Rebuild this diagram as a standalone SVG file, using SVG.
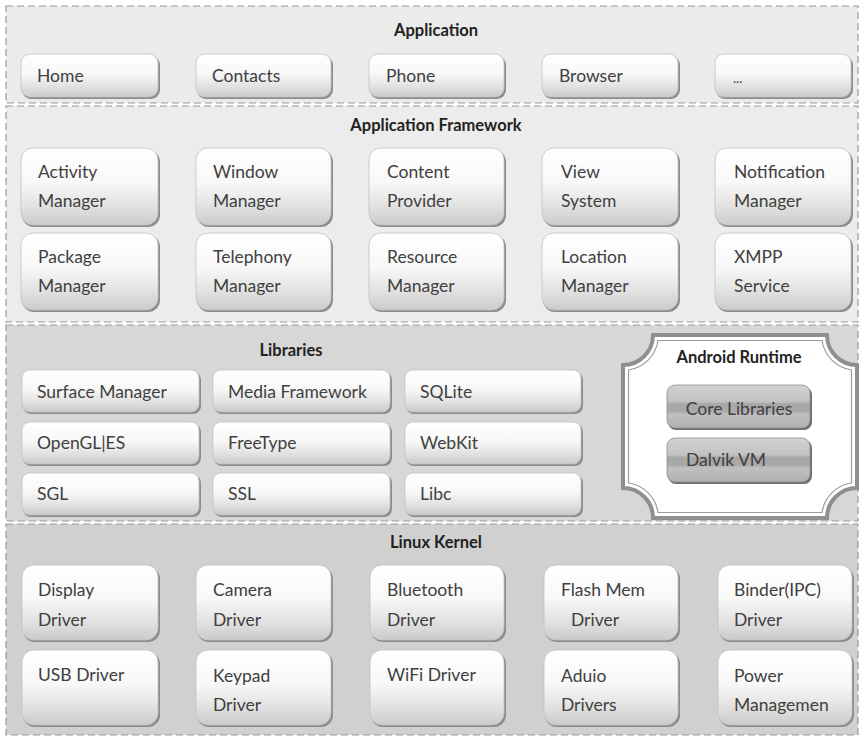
<svg xmlns="http://www.w3.org/2000/svg" width="862" height="738" viewBox="0 0 862 738">
<style>
.layer{stroke:#9a9a9a;stroke-width:1.2;stroke-dasharray:7 4}
.box{fill:url(#gw);stroke:#c2c2c2;stroke-width:0.8}
.sh{fill:#8c8c8c}
.dbox{fill:url(#gd);stroke:#8f8f8f;stroke-width:0.8}
.dsh{fill:#6f6f6f}
.t{font-family:Lato,"Liberation Sans",sans-serif;font-size:17.5px;fill:#404040}
.h{font-family:Lato,"Liberation Sans",sans-serif;font-size:16.5px;font-weight:bold;fill:#222222;text-anchor:middle}
</style>
<defs>
<linearGradient id="gw" x1="0" y1="0" x2="0" y2="1">
<stop offset="0" stop-color="#ffffff"/>
<stop offset="0.45" stop-color="#f8f8f8"/>
<stop offset="0.75" stop-color="#e2e2e2"/>
<stop offset="1" stop-color="#cbcbcb"/>
</linearGradient>
<linearGradient id="gd" x1="0" y1="0" x2="0" y2="1">
<stop offset="0" stop-color="#d2d2d2"/>
<stop offset="0.38" stop-color="#c2c2c2"/>
<stop offset="0.45" stop-color="#a6a6a6"/>
<stop offset="0.62" stop-color="#aaaaaa"/>
<stop offset="0.68" stop-color="#c0c0c0"/>
<stop offset="1" stop-color="#b0b0b0"/>
</linearGradient>
</defs>
<rect x="0" y="0" width="862" height="738" fill="#ffffff"/>

<g id="layers">
<rect class="layer" x="6" y="6" width="852" height="97" fill="#ebebeb"/>
<rect class="layer" x="6" y="106" width="852" height="216" fill="#ececec"/>
<rect class="layer" x="6" y="325" width="852" height="196" fill="#d7d7d7"/>
<rect class="layer" x="6" y="524" width="852" height="211" fill="#d0d0d0"/>
<text class="h" x="436" y="36">Application</text>
<text class="h" x="436" y="131">Application Framework</text>
<text class="h" x="291" y="356">Libraries</text>
<text class="h" x="436" y="548">Linux Kernel</text>
</g>

<!-- Application -->
<g id="home"><rect class="sh" x="22" y="56" width="138" height="43" rx="9"/><rect class="box" x="21" y="54" width="137" height="43" rx="9"/><text class="t" x="37" y="82">Home</text></g>
<g id="contacts"><rect class="sh" x="197" y="56" width="136" height="43" rx="9"/><rect class="box" x="196" y="54" width="135" height="43" rx="9"/><text class="t" x="212" y="82">Contacts</text></g>
<g id="phone"><rect class="sh" x="370" y="56" width="136" height="43" rx="9"/><rect class="box" x="369" y="54" width="135" height="43" rx="9"/><text class="t" x="386" y="82">Phone</text></g>
<g id="browser"><rect class="sh" x="543" y="56" width="137" height="43" rx="9"/><rect class="box" x="542" y="54" width="136" height="43" rx="9"/><text class="t" x="559" y="82">Browser</text></g>
<g id="more"><rect class="sh" x="716" y="56" width="137" height="43" rx="9"/><rect class="box" x="715" y="54" width="136" height="43" rx="9"/><text class="t" x="733" y="83" style="font-size:13px">...</text></g>

<!-- Application Framework -->
<g id="activity-manager"><rect class="sh" x="22" y="150" width="138" height="77" rx="12"/><rect class="box" x="21" y="148" width="137" height="77" rx="12"/><text class="t" x="38" y="178">Activity</text><text class="t" x="38" y="207">Manager</text></g>
<g id="window-manager"><rect class="sh" x="197" y="150" width="136" height="77" rx="12"/><rect class="box" x="196" y="148" width="135" height="77" rx="12"/><text class="t" x="213" y="178">Window</text><text class="t" x="213" y="207">Manager</text></g>
<g id="content-provider"><rect class="sh" x="370" y="150" width="136" height="77" rx="12"/><rect class="box" x="369" y="148" width="135" height="77" rx="12"/><text class="t" x="387" y="178">Content</text><text class="t" x="387" y="207">Provider</text></g>
<g id="view-system"><rect class="sh" x="543" y="150" width="137" height="77" rx="12"/><rect class="box" x="542" y="148" width="136" height="77" rx="12"/><text class="t" x="561" y="178">View</text><text class="t" x="561" y="207">System</text></g>
<g id="notification-manager"><rect class="sh" x="716" y="150" width="137" height="77" rx="12"/><rect class="box" x="715" y="148" width="136" height="77" rx="12"/><text class="t" x="734" y="178">Notification</text><text class="t" x="734" y="207">Manager</text></g>

<g id="package-manager"><rect class="sh" x="22" y="235" width="138" height="77" rx="12"/><rect class="box" x="21" y="233" width="137" height="77" rx="12"/><text class="t" x="38" y="263">Package</text><text class="t" x="38" y="292">Manager</text></g>
<g id="telephony-manager"><rect class="sh" x="197" y="235" width="136" height="77" rx="12"/><rect class="box" x="196" y="233" width="135" height="77" rx="12"/><text class="t" x="213" y="263">Telephony</text><text class="t" x="213" y="292">Manager</text></g>
<g id="resource-manager"><rect class="sh" x="370" y="235" width="136" height="77" rx="12"/><rect class="box" x="369" y="233" width="135" height="77" rx="12"/><text class="t" x="387" y="263">Resource</text><text class="t" x="387" y="292">Manager</text></g>
<g id="location-manager"><rect class="sh" x="543" y="235" width="137" height="77" rx="12"/><rect class="box" x="542" y="233" width="136" height="77" rx="12"/><text class="t" x="561" y="263">Location</text><text class="t" x="561" y="292">Manager</text></g>
<g id="xmpp-service"><rect class="sh" x="716" y="235" width="137" height="77" rx="12"/><rect class="box" x="715" y="233" width="136" height="77" rx="12"/><text class="t" x="734" y="263">XMPP</text><text class="t" x="734" y="292">Service</text></g>

<!-- Libraries -->
<g id="surface-manager"><rect class="sh" x="23" y="372" width="178" height="42" rx="8"/><rect class="box" x="22" y="370" width="177" height="42" rx="8"/><text class="t" x="37" y="398">Surface Manager</text></g>
<g id="media-framework"><rect class="sh" x="214" y="372" width="178" height="42" rx="8"/><rect class="box" x="213" y="370" width="177" height="42" rx="8"/><text class="t" x="228" y="398">Media Framework</text></g>
<g id="sqlite"><rect class="sh" x="406" y="372" width="177" height="42" rx="8"/><rect class="box" x="405" y="370" width="176" height="42" rx="8"/><text class="t" x="420" y="398">SQLite</text></g>
<g id="opengl"><rect class="sh" x="23" y="424" width="178" height="42" rx="8"/><rect class="box" x="22" y="422" width="177" height="42" rx="8"/><text class="t" x="37" y="449">OpenGL|ES</text></g>
<g id="freetype"><rect class="sh" x="214" y="424" width="178" height="42" rx="8"/><rect class="box" x="213" y="422" width="177" height="42" rx="8"/><text class="t" x="228" y="449">FreeType</text></g>
<g id="webkit"><rect class="sh" x="406" y="424" width="177" height="42" rx="8"/><rect class="box" x="405" y="422" width="176" height="42" rx="8"/><text class="t" x="420" y="449">WebKit</text></g>
<g id="sgl"><rect class="sh" x="23" y="475" width="178" height="42" rx="8"/><rect class="box" x="22" y="473" width="177" height="42" rx="8"/><text class="t" x="37" y="500">SGL</text></g>
<g id="ssl"><rect class="sh" x="214" y="475" width="178" height="42" rx="8"/><rect class="box" x="213" y="473" width="177" height="42" rx="8"/><text class="t" x="228" y="500">SSL</text></g>
<g id="libc"><rect class="sh" x="406" y="475" width="177" height="42" rx="8"/><rect class="box" x="405" y="473" width="176" height="42" rx="8"/><text class="t" x="420" y="500">Libc</text></g>

<!-- Android Runtime -->
<g id="android-runtime">
<path d="M653 335 H827 A30 30 0 0 0 857 365 V488 A30 30 0 0 0 827 518 H653 A30 30 0 0 0 623 488 V365 A30 30 0 0 0 653 335 Z" fill="#ffffff" stroke="#8f8f8f" stroke-width="4"/>
<path d="M658 340.5 H822 A35 35 0 0 0 851.5 370 V483 A35 35 0 0 0 822 512.5 H658 A35 35 0 0 0 628.5 483 V370 A35 35 0 0 0 658 340.5 Z" fill="none" stroke="#9a9a9a" stroke-width="1.2"/>
<text class="h" x="739" y="363">Android Runtime</text>
</g>
<g id="core-libraries"><rect class="dsh" x="668" y="387" width="144" height="43" rx="8"/><rect class="dbox" x="667" y="385" width="143" height="43" rx="8"/><text class="t" x="739" y="415" text-anchor="middle">Core Libraries</text></g>
<g id="dalvik-vm"><rect class="dsh" x="668" y="440" width="144" height="44" rx="8"/><rect class="dbox" x="667" y="438" width="143" height="44" rx="8"/><text class="t" x="686" y="466">Dalvik VM</text></g>

<!-- Linux Kernel -->
<g id="display-driver"><rect class="sh" x="23" y="567" width="137" height="75" rx="12"/><rect class="box" x="22" y="565" width="136" height="75" rx="12"/><text class="t" x="38" y="596">Display</text><text class="t" x="38" y="626">Driver</text></g>
<g id="camera-driver"><rect class="sh" x="197" y="567" width="136" height="75" rx="12"/><rect class="box" x="196" y="565" width="135" height="75" rx="12"/><text class="t" x="213" y="596">Camera</text><text class="t" x="213" y="626">Driver</text></g>
<g id="bluetooth-driver"><rect class="sh" x="371" y="567" width="135" height="75" rx="12"/><rect class="box" x="370" y="565" width="134" height="75" rx="12"/><text class="t" x="387" y="596">Bluetooth</text><text class="t" x="387" y="626">Driver</text></g>
<g id="flash-mem-driver"><rect class="sh" x="545" y="567" width="135" height="75" rx="12"/><rect class="box" x="544" y="565" width="134" height="75" rx="12"/><text class="t" x="561" y="596">Flash Mem</text><text class="t" x="571" y="626">Driver</text></g>
<g id="binder-driver"><rect class="sh" x="719" y="567" width="135" height="75" rx="12"/><rect class="box" x="718" y="565" width="134" height="75" rx="12"/><text class="t" x="734" y="596">Binder(IPC)</text><text class="t" x="734" y="626">Driver</text></g>

<g id="usb-driver"><rect class="sh" x="23" y="652" width="137" height="75" rx="12"/><rect class="box" x="22" y="650" width="136" height="75" rx="12"/><text class="t" x="38" y="681">USB Driver</text></g>
<g id="keypad-driver"><rect class="sh" x="197" y="652" width="136" height="75" rx="12"/><rect class="box" x="196" y="650" width="135" height="75" rx="12"/><text class="t" x="213" y="682">Keypad</text><text class="t" x="213" y="711">Driver</text></g>
<g id="wifi-driver"><rect class="sh" x="371" y="652" width="135" height="75" rx="12"/><rect class="box" x="370" y="650" width="134" height="75" rx="12"/><text class="t" x="387" y="681">WiFi Driver</text></g>
<g id="audio-drivers"><rect class="sh" x="545" y="652" width="135" height="75" rx="12"/><rect class="box" x="544" y="650" width="134" height="75" rx="12"/><text class="t" x="561" y="682">Aduio</text><text class="t" x="561" y="711">Drivers</text></g>
<g id="power-management"><rect class="sh" x="719" y="652" width="135" height="75" rx="12"/><rect class="box" x="718" y="650" width="134" height="75" rx="12"/><text class="t" x="734" y="682">Power</text><text class="t" x="734" y="711">Managemen</text></g>
</svg>
